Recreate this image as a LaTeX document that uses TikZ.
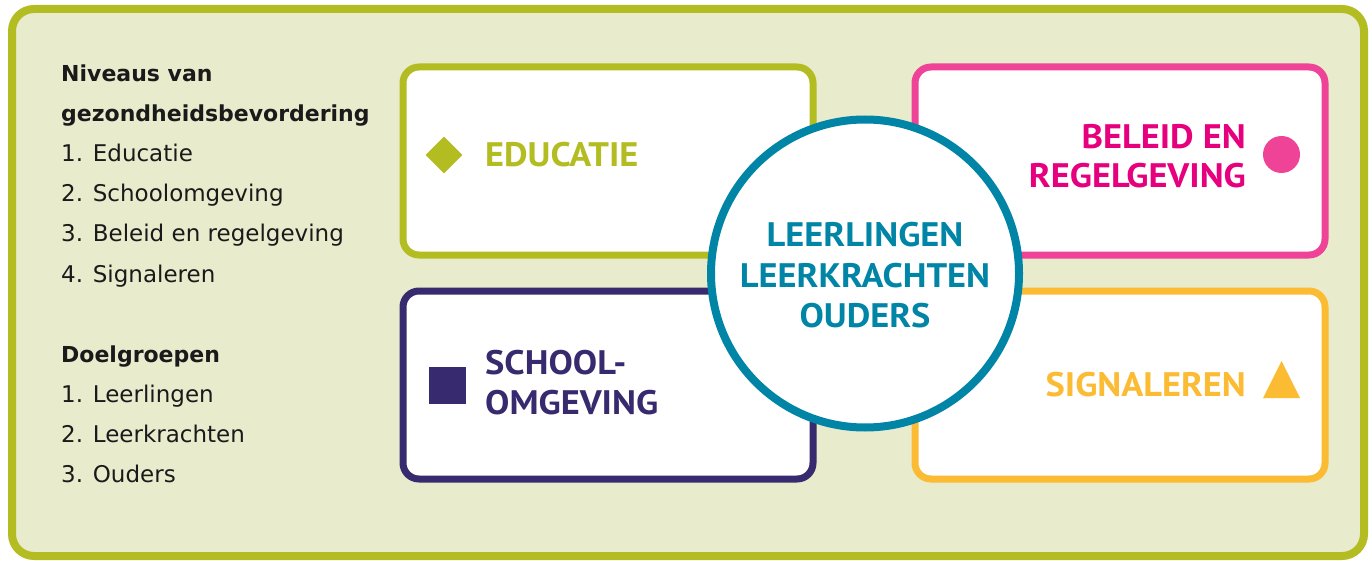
\documentclass[tikz,border=0pt]{standalone}
\usepackage{fontspec}
\setmainfont{PT Sans}
\newfontfamily\labelfont[FakeStretch=1.07]{PT Sans}
\newfontfamily\listfont{DejaVu Sans}
\usetikzlibrary{shapes.geometric, positioning}
\definecolor{framegreen}{RGB}{179,188,32}
\definecolor{framefill}{RGB}{233,235,205}
\definecolor{mypurple}{RGB}{55,42,110}
\definecolor{mypink}{RGB}{238,67,151}
\definecolor{pinktext}{RGB}{230,0,126}
\definecolor{myyellow}{RGB}{251,187,51}
\definecolor{myteal}{RGB}{0,133,166}
\definecolor{listdark}{RGB}{26,26,26}
\tikzset{
  levelbox/.style={rectangle, draw=#1, fill=white, line width=7pt,
    rounded corners=16pt, minimum width=410pt, minimum height=188pt,
    inner sep=0pt},
  levellabel/.style={font=\labelfont\fontsize{34}{40}\selectfont\bfseries,
    text=#1, inner sep=0pt},
  listtext/.style={font=\listfont\fontsize{23}{30}\selectfont, text=listdark,
    inner sep=0pt, anchor=base west},
  listhead/.style={listtext, font=\listfont\fontsize{22}{30}\selectfont\bfseries}
}

\begin{document}
\begin{tikzpicture}[x=1pt, y=-1pt]
  \useasboundingbox (0,0) rectangle (1372,561);

  % Outer frame
  \node[rectangle, draw=framegreen, fill=framefill, line width=8pt,
    rounded corners=22pt, minimum width=1352pt, minimum height=547pt,
    inner sep=0pt] (frame) at (688,282.5) {};

  % Legend on the left
  \node[listhead] (lvlhead1) at (61,82) {Niveaus van};
  \node[listhead] (lvlhead2) at (61,122) {gezondheidsbevordering};
  \foreach \txt [count=\i] in {Educatie, Schoolomgeving, Beleid en regelgeving, Signaleren}
    \node[listtext] (lvl\i) at (61,122+40*\i) {\i. \txt};
  \node[listhead] (grphead) at (61,362) {Doelgroepen};
  \foreach \txt [count=\i] in {Leerlingen, Leerkrachten, Ouders}
    \node[listtext] (grp\i) at (61,362+40*\i) {\i. \txt};

  % Four levels
  \node[levelbox=framegreen] (edu) at (608,161) {};
  \node[levelbox=mypurple] (school) at (608,385) {};
  \node[levelbox=mypink] (policy) at (1120,161) {};
  \node[levelbox=myyellow] (signal) at (1120,385) {};

  % Target groups in the middle
  \node[circle, draw=myteal, fill=white, line width=8pt,
    minimum size=308pt, inner sep=0pt] (groups) at (865,273.5) {};

  % Level labels and markers
  \node[diamond, fill=framegreen, minimum width=37pt, minimum height=37pt,
    inner sep=0pt] (edumark) at (444,155) {};
  \node[levellabel=framegreen, anchor=base west] (edutext) at (485,167) {EDUCATIE};

  \node[rectangle, fill=mypurple, minimum size=37pt, inner sep=0pt]
    (schoolmark) at (447,385) {};
  \node[levellabel=mypurple, anchor=base west] (schooltext1) at (485,374) {SCHOOL-};
  \node[levellabel=mypurple, anchor=base west] (schooltext2) at (485,414) {OMGEVING};

  \node[circle, fill=mypink, minimum size=37pt, inner sep=0pt]
    (policymark) at (1281.5,154.5) {};
  \node[levellabel=pinktext, anchor=base east] (policytext1) at (1246,149) {BELEID EN};
  \node[levellabel=pinktext, anchor=base east] (policytext2) at (1246,188) {REGELGEVING};

  \fill[myyellow] (1263,398) -- (1300,398) -- (1281.5,361) -- cycle;
  \node[levellabel=myyellow, anchor=base east] (signaltext) at (1246,396) {SIGNALEREN};

  % Circle text
  \node[levellabel=myteal, anchor=base] (grptext1) at (865,247) {LEERLINGEN};
  \node[levellabel=myteal, anchor=base] (grptext2) at (865,287) {LEERKRACHTEN};
  \node[levellabel=myteal, anchor=base] (grptext3) at (865,327) {OUDERS};
\end{tikzpicture}
\end{document}
